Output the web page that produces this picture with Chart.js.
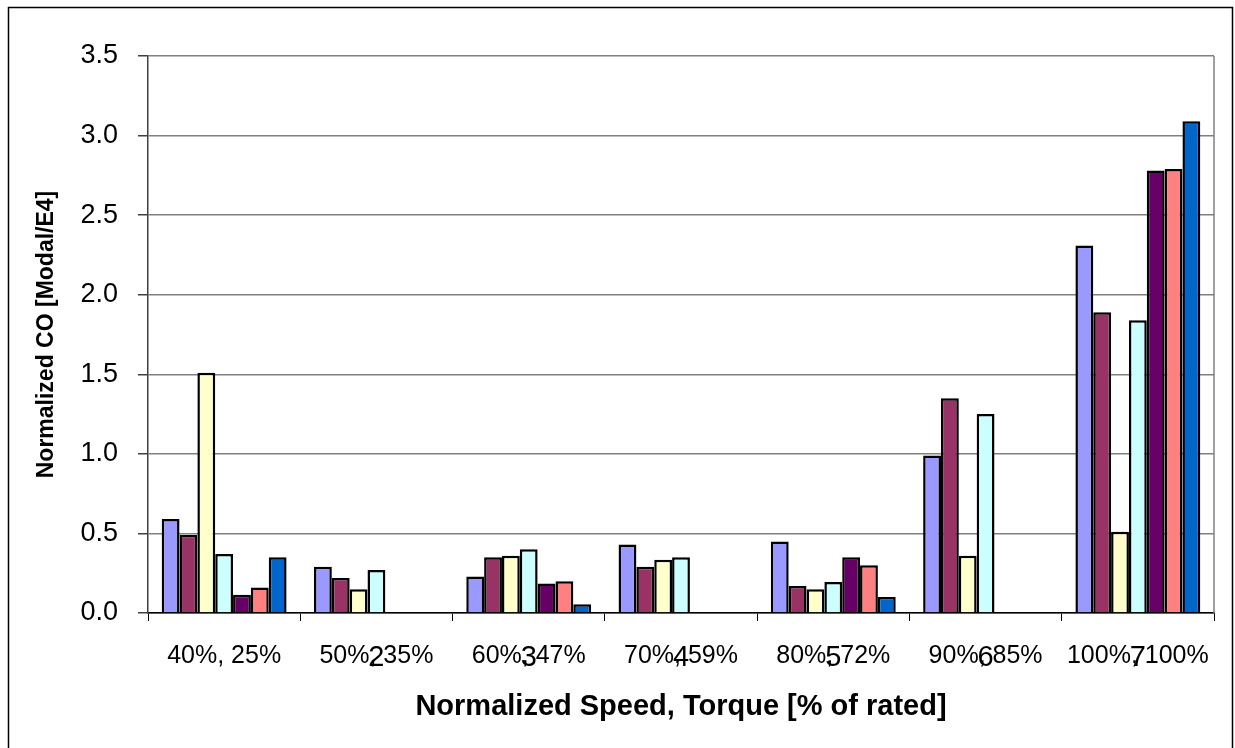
<!DOCTYPE html>
<html>
<head>
<meta charset="utf-8">
<script src="https://cdn.jsdelivr.net/npm/chart.js@4/dist/chart.umd.min.js"></script>
<style>
  html, body { margin: 0; padding: 0; background: #fff; }
  canvas { display: block; }
</style>
</head>
<body>
<canvas id="c" width="1235" height="748"></canvas>
<script>
// ---- data ----
const categories = ["40%, 25%", "50%, 35%", "60%, 47%", "70%, 59%", "80%, 72%", "90%, 85%", "100%, 100%"];
const modeNumbers = ["", "2", "3", "4", "5", "6", "7"];
const seriesNames = ["Series 1", "Series 2", "Series 3", "Series 4", "Series 5", "Series 6", "Series 7"];
const series1 = [0.59, 0.29, 0.23, 0.43, 0.45, 0.99, 2.31];
const series2 = [0.49, 0.22, 0.35, 0.29, 0.17, 1.35, 1.89];
const series3 = [1.51, 0.15, 0.36, 0.335, 0.15, 0.36, 0.51];
const series4 = [0.37, 0.27, 0.40, 0.35, 0.195, 1.25, 1.84];
const series5 = [0.115, null, 0.185, null, 0.35, null, 2.78];
const series6 = [0.16, null, 0.20, null, 0.30, null, 2.79];
const series7 = [0.35, null, 0.055, null, 0.10, null, 3.09];
const yTicks = [0, 0.5, 1.0, 1.5, 2.0, 2.5, 3.0, 3.5];
const yTitle = "Normalized CO [Modal/E4]";
const xTitle = "Normalized Speed, Torque [% of rated]";

const colors = ["#9999FF", "#993366", "#FFFFCC", "#CCFFFF", "#660066", "#FF8080", "#0066CC"];
const allSeries = [series1, series2, series3, series4, series5, series6, series7];

const FONT = "'Liberation Sans', Arial, sans-serif";

const framePlugin = {
  id: 'frame',
  afterDraw(chart) {
    const ctx = chart.ctx;
    const a = chart.chartArea;
    ctx.save();
    // plot area right border
    ctx.strokeStyle = '#808080';
    ctx.lineWidth = 1.5;
    ctx.beginPath();
    ctx.moveTo(a.right, a.top);
    ctx.lineTo(a.right, a.bottom);
    ctx.stroke();
    // outer frame
    ctx.strokeStyle = '#000';
    ctx.lineWidth = 1.5;
    ctx.strokeRect(8.5, 7.5, 1224, 800);
    // mode numbers overlapping the category labels
    const xs = chart.scales.x;
    ctx.fillStyle = '#000';
    ctx.font = "29px " + FONT;
    ctx.textAlign = 'center';
    ctx.textBaseline = 'middle';
    modeNumbers.forEach((n, i) => {
      if (!n) return;
      ctx.fillText(n, xs.getPixelForTick(i), a.bottom + 45);
    });
    ctx.restore();
  }
};

new Chart(document.getElementById('c'), {
  type: 'bar',
  data: {
    labels: categories,
    datasets: allSeries.map((d, i) => ({
      label: seriesNames[i],
      data: d,
      backgroundColor: colors[i],
      borderColor: '#000',
      borderWidth: 2.5,
      borderSkipped: 'start',
      categoryPercentage: 0.82,
      barPercentage: 1.0
    }))
  },
  options: {
    responsive: false,
    animation: false,
    devicePixelRatio: 1,
    layout: { padding: { left: 9, top: 56, right: 21, bottom: 0 } },
    plugins: { legend: { display: false }, tooltip: { enabled: false } },
    scales: {
      x: {
        offset: true,
        grid: { display: true, drawOnChartArea: false, drawTicks: true, tickLength: 8, color: '#000', offset: true, lineWidth: 1 },
        border: { color: '#000', width: 1.5 },
        ticks: { color: '#000', font: { family: FONT, size: 25 }, padding: 20, maxRotation: 0, autoSkip: false },
        title: { display: true, text: xTitle, color: '#000', font: { family: FONT, size: 29, weight: 'bold' }, padding: { top: 24, bottom: 24 } },
        afterFit(s) { s.height = 135; }
      },
      y: {
        min: 0,
        max: 3.5,
        afterBuildTicks(s) { s.ticks = yTicks.map(v => ({ value: v })); },
        grid: { color: '#808080', lineWidth: 1.5, drawTicks: true, tickLength: 10, tickColor: '#404040' },
        border: { color: '#404040', width: 1.5 },
        ticks: { color: '#000', font: { family: FONT, size: 27 }, padding: 20, callback: v => Number(v).toFixed(1) },
        title: { display: true, text: yTitle, color: '#000', font: { family: FONT, size: 23, weight: 'bold' }, padding: { top: 24, bottom: 24 } },
        afterFit(s) { s.width = 139; }
      }
    }
  },
  plugins: [framePlugin]
});
</script>
</body>
</html>
